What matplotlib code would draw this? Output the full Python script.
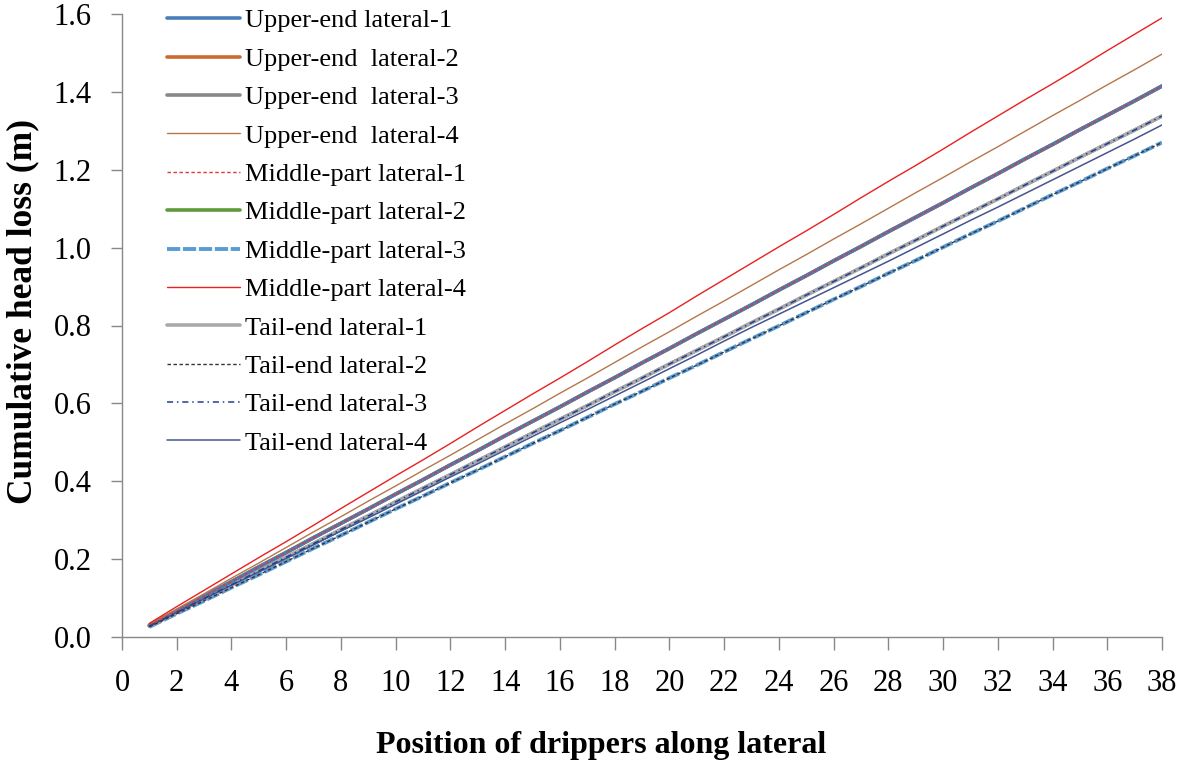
import matplotlib
matplotlib.use("Agg")
import matplotlib.pyplot as plt

positions = list(range(1, 39))

# Group of overlapping series
top_red = [0.035, 0.078, 0.120, 0.162, 0.204, 0.245, 0.287, 0.330, 0.372, 0.414,
           0.455, 0.497, 0.540, 0.582, 0.624, 0.665, 0.707, 0.750, 0.792, 0.833,
           0.876, 0.918, 0.960, 1.002, 1.043, 1.085, 1.128, 1.170, 1.211, 1.253,
           1.296, 1.338, 1.380, 1.421, 1.463, 1.506, 1.548, 1.590]
brown = [0.032, 0.072, 0.111, 0.151, 0.190, 0.230, 0.270, 0.309, 0.349, 0.388,
         0.428, 0.467, 0.507, 0.547, 0.586, 0.626, 0.665, 0.705, 0.745, 0.784,
         0.824, 0.863, 0.903, 0.943, 0.982, 1.022, 1.061, 1.101, 1.141, 1.180,
         1.220, 1.259, 1.299, 1.339, 1.378, 1.418, 1.457, 1.497]
blue_group = [0.030, 0.067, 0.105, 0.142, 0.180, 0.217, 0.255, 0.292, 0.329, 0.367,
              0.404, 0.442, 0.479, 0.517, 0.554, 0.591, 0.629, 0.666, 0.704, 0.741,
              0.779, 0.816, 0.853, 0.891, 0.928, 0.966, 1.003, 1.041, 1.078, 1.115,
              1.153, 1.190, 1.228, 1.265, 1.303, 1.340, 1.377, 1.415]
gray_group = [0.028, 0.063, 0.099, 0.134, 0.170, 0.205, 0.240, 0.276, 0.311, 0.347,
              0.382, 0.417, 0.453, 0.488, 0.524, 0.559, 0.594, 0.630, 0.665, 0.701,
              0.736, 0.771, 0.807, 0.842, 0.878, 0.913, 0.948, 0.984, 1.019, 1.055,
              1.090, 1.125, 1.161, 1.196, 1.232, 1.267, 1.302, 1.338]
navy = [0.028, 0.063, 0.098, 0.133, 0.167, 0.202, 0.237, 0.272, 0.306, 0.341,
        0.376, 0.411, 0.445, 0.480, 0.515, 0.550, 0.584, 0.619, 0.654, 0.689,
        0.724, 0.760, 0.795, 0.829, 0.863, 0.897, 0.931, 0.965, 1.000, 1.035,
        1.070, 1.104, 1.139, 1.174, 1.209, 1.244, 1.279, 1.315]
light_group = [0.026, 0.060, 0.093, 0.127, 0.160, 0.194, 0.228, 0.261, 0.295, 0.329,
               0.362, 0.396, 0.429, 0.463, 0.497, 0.530, 0.564, 0.598, 0.631, 0.665,
               0.698, 0.732, 0.766, 0.799, 0.833, 0.867, 0.900, 0.934, 0.967, 1.001,
               1.035, 1.068, 1.102, 1.136, 1.169, 1.203, 1.236, 1.270]

upper_1 = blue_group
upper_2 = blue_group
upper_3 = gray_group
upper_4 = brown
middle_1 = blue_group
middle_2 = blue_group
middle_3 = light_group
middle_4 = top_red
tail_1 = gray_group
tail_2 = light_group
tail_3 = gray_group
tail_4 = navy

labels = ["Upper-end lateral-1", "Upper-end  lateral-2", "Upper-end  lateral-3",
          "Upper-end  lateral-4", "Middle-part lateral-1", "Middle-part lateral-2",
          "Middle-part lateral-3", "Middle-part lateral-4", "Tail-end lateral-1",
          "Tail-end lateral-2", "Tail-end lateral-3", "Tail-end lateral-4"]
series = [upper_1, upper_2, upper_3, upper_4, middle_1, middle_2,
          middle_3, middle_4, tail_1, tail_2, tail_3, tail_4]

styles = [
    dict(color="#4A7EBB", lw=2.6, ls="-", z=4),
    dict(color="#D0692E", lw=2.6, ls="-", z=2),
    dict(color="#888888", lw=2.6, ls="-", z=2),
    dict(color="#B5764A", lw=1.0, ls="-", z=5),
    dict(color="#D93A3A", lw=1.0, ls=(0, (2.5, 1.8)), z=6),
    dict(color="#5E9A3C", lw=2.6, ls="-", z=1),
    dict(color="#5B9BD5", lw=2.8, ls=(0, (3.4, 0.7)), z=3),
    dict(color="#E82020", lw=1.0, ls="-", z=5),
    dict(color="#AAAAAA", lw=2.6, ls="-", z=3),
    dict(color="#333333", lw=1.0, ls=(0, (2.5, 1.8)), z=6),
    dict(color="#1F3F8F", lw=1.1, ls=(0, (4, 2.5, 1, 2.5)), z=6),
    dict(color="#44548F", lw=1.1, ls="-", z=5),
]

plt.rcParams['font.family'] = ['Liberation Serif', 'DejaVu Serif']

fig = plt.figure(figsize=(11.86, 7.67), dpi=100)
ax = fig.add_axes([122/1186, 1 - 637/767, (1162-122)/1186, (637-14)/767])

handles = []
for y, lab, st in zip(series, labels, styles):
    h, = ax.plot(positions, y, color=st["color"], lw=st["lw"], ls=st["ls"],
                 zorder=st["z"], label=lab, solid_capstyle="round",
                 dash_capstyle="butt")
    handles.append(h)

ax.set_xlim(0, 38)
ax.set_ylim(0, 1.6)
ax.set_xticks(range(0, 39, 2))
ax.set_yticks([0.0, 0.2, 0.4, 0.6, 0.8, 1.0, 1.2, 1.4, 1.6])
ax.set_yticklabels(["0.0", "0.2", "0.4", "0.6", "0.8", "1.0", "1.2", "1.4", "1.6"])

for s in ["top", "right"]:
    ax.spines[s].set_visible(False)
for s in ["left", "bottom"]:
    ax.spines[s].set_color("#888888")
    ax.spines[s].set_linewidth(1.0)

ax.tick_params(axis="y", direction="out", length=8, width=1.0, color="#888888",
               labelsize=22, pad=14)
ax.tick_params(axis="x", direction="out", length=9, width=1.0, color="#888888",
               labelsize=22, pad=14)

ax.set_xlabel("Position of drippers along lateral", fontsize=23, fontweight="bold",
              va="top", ha="center")
ax.xaxis.set_label_coords((601 - 122) / 1040, (637 - 731) / 623)
ax.set_ylabel("Cumulative head loss (m)", fontsize=25.5, fontweight="bold")
ax.yaxis.set_label_coords((39 - 122) / 1040, (637 - 311) / 623)

leg = ax.legend(handles=handles, loc="upper left",
                bbox_to_anchor=(167/1186, 1 - 9/767), bbox_transform=fig.transFigure,
                frameon=False, fontsize=19, handlelength=2.75, handletextpad=0.22,
                labelspacing=0.565, borderpad=0, borderaxespad=0)

fig.savefig("out.png", dpi=100)
